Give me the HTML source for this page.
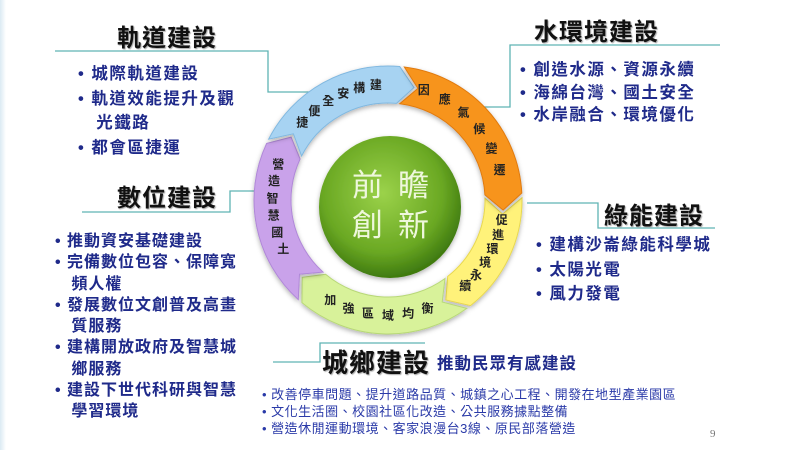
<!DOCTYPE html>
<html><head><meta charset="utf-8"><style>
body{margin:0;width:800px;height:450px;background:#fff;overflow:hidden;position:relative;font-family:"Liberation Sans","Noto Sans CJK TC",sans-serif}
.a{position:absolute;white-space:nowrap}
.h{font-weight:bold;font-size:24px;color:#111;letter-spacing:1px;text-shadow:1px 1px 1px #aaa}
.b{color:#1f2a8a;font-weight:bold;font-size:16.5px;letter-spacing:1.5px}
.s{color:#2a3aa8;font-size:13px;letter-spacing:0.5px}
</style></head><body>
<div class="a" style="left:0;top:0;width:6px;height:450px;background:linear-gradient(90deg,#dbeaf3,#fff)"></div>
<svg id="sv" class="a" style="left:0;top:0" width="800" height="450">
<defs>
<radialGradient id="g" cx="45%" cy="40%" r="60%"><stop offset="0" stop-color="#9bd24a"/><stop offset="0.7" stop-color="#6aa823"/><stop offset="1" stop-color="#3f7a10"/></radialGradient>
<filter id="sh"><feDropShadow dx="0" dy="2" stdDeviation="2.5" flood-opacity="0.3"/></filter>
</defs>
<g fill="none" stroke="#5fb3b3" stroke-width="1.3">
<polyline points="55,51 268,51 268,92 318,92"/>
<polyline points="82,212 230,212 230,191 255,191"/>
<polyline points="720,45 510,45 510,107 470,107"/>
<polyline points="527,203 598,203 598,228 715,228"/>
<polyline points="273,362 320,362 320,343 425,343"/>
</g>
<g id="ring"></g>
<circle cx="390" cy="207" r="71" fill="url(#g)" filter="url(#sh)"/>
<g font-size="31" fill="#eef7dc" font-family="Liberation Sans,Noto Sans CJK TC,sans-serif">
<text x="352" y="196">前</text><text x="398" y="196">瞻</text>
<text x="352" y="236">創</text><text x="398" y="236">新</text>
</g>
<g id="lab" font-size="12" font-weight="bold" fill="#222" font-family="Liberation Sans,Noto Sans CJK TC,sans-serif" text-anchor="middle"></g>
</svg>
<div class="a h" style="left:117px;top:18px">軌道建設</div>
<div class="a b" style="left:78px;top:62px;line-height:24.5px">• 城際軌道建設<br>• 軌道效能提升及觀<br>&nbsp;&nbsp;&nbsp;光鐵路<br>• 都會區捷運</div>
<div class="a h" style="left:117px;top:178px">數位建設</div>
<div class="a b" style="left:55px;top:231px;line-height:21.3px;font-size:16px;letter-spacing:1px">• 推動資安基礎建設<br>• 完備數位包容、保障寬<br>&nbsp;&nbsp;&nbsp;頻人權<br>• 發展數位文創普及高畫<br>&nbsp;&nbsp;&nbsp;質服務<br>• 建構開放政府及智慧城<br>&nbsp;&nbsp;&nbsp;鄉服務<br>• 建設下世代科研與智慧<br>&nbsp;&nbsp;&nbsp;學習環境</div>
<div class="a h" style="left:534px;top:12px">水環境建設</div>
<div class="a b" style="left:520px;top:59px;line-height:22.5px">• 創造水源、資源永續<br>• 海綿台灣、國土安全<br>• 水岸融合、環境優化</div>
<div class="a h" style="left:604px;top:196px">綠能建設</div>
<div class="a b" style="left:536px;top:233px;line-height:24.5px">• 建構沙崙綠能科學城<br>• 太陽光電<br>• 風力發電</div>
<div class="a h" style="left:322px;top:343px;font-size:26px">城鄉建設</div>
<div class="a b" style="left:437px;top:350px;font-size:16.5px;letter-spacing:1px">推動民眾有感建設</div>
<div class="a s" style="left:262px;top:386px;line-height:17px">• 改善停車問題、提升道路品質、城鎮之心工程、開發在地型產業園區<br>• 文化生活圈、校園社區化改造、公共服務據點整備<br>• 營造休閒運動環境、客家浪漫台3線、原民部落營造</div>
<div class="a" style="left:710px;top:428px;font-size:11px;color:#777;font-family:'Liberation Serif',serif">9</div>
<script>
var cx=388,cy=200,R=134,r=97,m=(R+r)/2,ns="http://www.w3.org/2000/svg";
function P(a,rad){a=(a-90)*Math.PI/180;return (cx+rad*Math.cos(a)).toFixed(1)+","+(cy+rad*Math.sin(a)).toFixed(1);}
function seg(a0,a1,c1,c2){var t=8;
var d="M"+P(a0,R)+" A"+R+","+R+" 0 0 1 "+P(a1,R)+" L"+P(a1+t,m)+" L"+P(a1,r)+" A"+r+","+r+" 0 0 0 "+P(a0,r)+" L"+P(a0+t,m)+" Z";
var p=document.createElementNS(ns,"path");p.setAttribute("d",d);p.setAttribute("fill",c1);p.setAttribute("stroke",c2);p.setAttribute("stroke-width","1");
p.setAttribute("filter","url(#sh)");document.getElementById("ring").appendChild(p);}
seg(89,142,"#fff27a","#e8d850");
seg(144,220,"#d8f29a","#b8d878");
seg(222,295,"#c9a2ea","#b088d8");
seg(-63,5,"#a7d3f2","#80b8e0");
seg(7,87,"#f7941d","#e07a10");
function lab(s,a0,a1){var n=s.length;for(var i=0;i<n;i++){var a=a0+(a1-a0)*(n==1?0:i/(n-1));var q=P(a,m).split(",");
var t=document.createElementNS(ns,"text");t.setAttribute("x",q[0]);t.setAttribute("y",+q[1]+4);t.textContent=s[i];document.getElementById("lab").appendChild(t);}}
lab("捷便全安構建",-48,-6);
lab("因應氣候變遷",18,75);
lab("促進環境永續",100,138);
lab("加強區域均衡",210,160);
lab("營造智慧國土",288,245);
</script>
</body></html>
